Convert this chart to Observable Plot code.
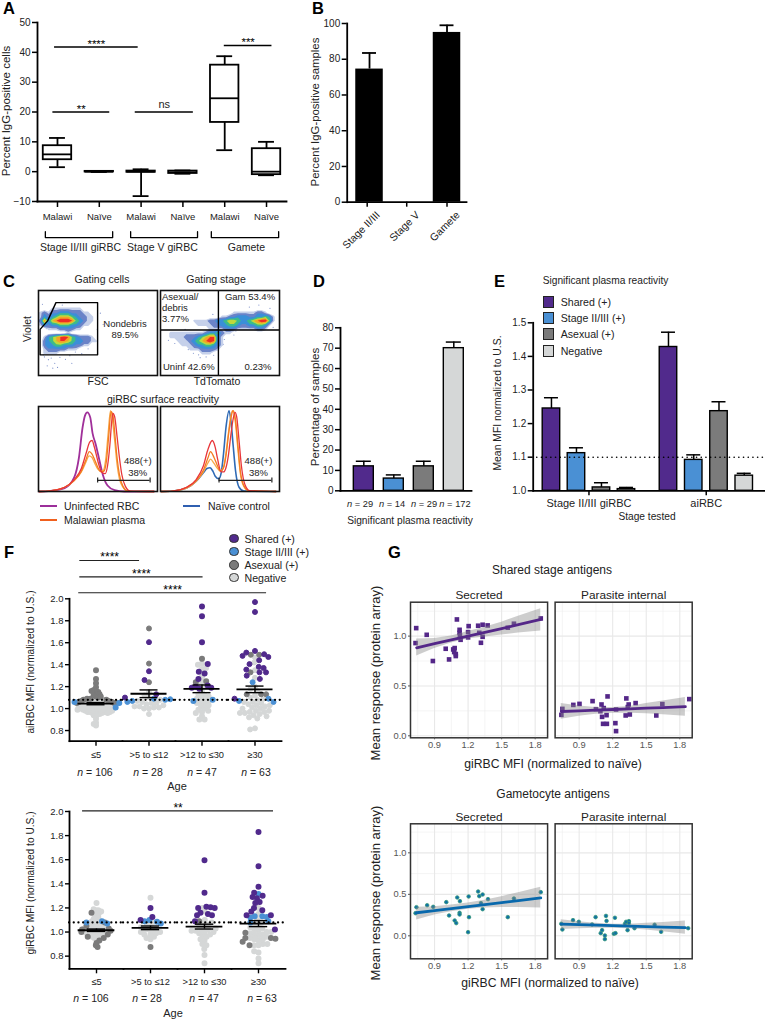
<!DOCTYPE html>
<html><head><meta charset="utf-8">
<script src="https://cdn.jsdelivr.net/npm/d3@7"></script>
<script src="https://cdn.jsdelivr.net/npm/@observablehq/plot@0.6"></script>
<style>
html,body{margin:0;padding:0;background:#fff}
#page{position:relative;width:765px;height:1020px;overflow:hidden;font-family:"Liberation Sans",Arial,sans-serif;color:#222}
#page svg{position:absolute;overflow:visible;max-width:none;background:transparent}
.t{position:absolute;white-space:nowrap;line-height:1}
.sw{position:absolute}
</style></head><body><div id="page"></div>
<script>
// ---------- Panel A ----------
const boxNames = ["Malawi","Naïve","Malawi","Naïve","Malawi","Naïve"];
const boxLow = [1.5,-0.1,-8.2,-0.7,7.2,-1.2];
const boxQ1 = [4,-0.1,-0.2,-0.6,16.5,-1];
const boxMedian = [5.8,0,0,-0.2,24.6,0];
const boxQ3 = [8.7,0.1,0.2,0.2,35.7,7.7];
const boxHigh = [11.3,0.1,0.8,0.4,38.7,10];
const sigAFrom = [-0.07,-0.11,1.86,3.99];
const sigATo = [1.93,1.25,3.25,5.13];
const sigALevel = [41.8,20,20,42.3];
const sigAText = ["****","**","ns","***"];
const groupNames = ["Stage II/III giRBC","Stage V giRBC","Gamete"];
const groupFrom = [-0.29,1.75,3.68];
const groupTo = [1.32,3.35,5.29];
const groupMid = [0.55,2.51,4.52];
// ---------- Panel B ----------
const stageNames = ["Stage II/III","Stage V","Gamete"];
const stagePercent = [74.5,0,95];
const stageUpper = [83.5,0,99];
const stageTicks = [-0.06,0.96,2];
// ---------- Panel C ----------
const gatingCells = [
"0","0","0","0",
"000111111110000000000000000000",
"121223332221100000000000000000",
"132345554322110000000000000000",
"263567776432110000000000000000",
"132334443321100000000000000000",
"001112222110000000000000000000",
"000000010000000000000000000000",
"013456764322210000000000000000",
"023456654332211000000000000000",
"023344333221100000000000000000",
"012222211100000000000000000000",
"011110000000000000000000000000",
"0","0","0","0","0"];
const gatingStage = [
"0","0","0","0","0",
"000000000000000000111111221000",
"000000000000000112233322334310",
"000000001111223345543345677410",
"000000000111122334432233443100",
"000000000000111122211111221000",
"001111111112334211000000000000",
"001111222345662100000000000000",
"000011123456762100000000000000",
"000001112334432100000000000000",
"000000011122221000000000000000",
"000000000011100000000000000000",
"0","0","0","0","0"];
const speckleCellsX = [1.5,2.5,3.2,4.1,5.4,6.8,2.2,3.6,1.2,7.9,9.3,12.5,14.8,15.6,16.3,10.9,1,2,6,4.8,8.4];
const speckleCellsY = [16.4,17.1,16.7,18,16.5,17,18.6,19.2,15.9,16.1,15.2,14.4,9.6,5.6,8.4,15.6,3.4,9.4,3.6,19,18];
const speckleStageX = [15.3,16.1,17,18.5,15.8,16.6,2,3.6,5.2,7,8.3,9.6,10,6.2,22.4,24.8,27.6,28.4,19,14.9,15.9,13.4,11.5,13.2];
const speckleStageY = [11.2,12.1,10.6,11,13.3,10.3,12.3,13.1,13,14.6,15.5,15.9,16.6,9.6,4.1,3.6,4.4,9.1,10,14,10.9,16,16.4,5.9];
const gateX = [4.4,14.9,14.9,0.4,0.4,2.3,4.4];
const gateY = [3,3,15.9,15.9,9.6,7.5,3];
const densityThresholds = [0.7,1.3,2.2,3.2,4.2,5,6];
const densityColors = ["#c5d0ea","#6a83c8","#3a8fd8","#3dbb8a","#c0d93c","#f5a326","#ee2d24"];
const uninfectedX = [0.5,10,22,30,34,37,39,41,43.5,45.5,48,51,54,58,64,72,97];
const uninfectedY = [0,0.8,4,16.5,40,75,89,93,87,68,56,38,20,7,1.5,0,0];
const plasmaRedLeftX = [0.5,10,22,30,36,40,43,45,47,50,53,56,58,60,61.5,62.6,64,66,68,70,73,77,97];
const plasmaRedLeftY = [0,0.8,5,14,27,45,58,60,52,35,23,21,30,55,82,92,88,65,40,20,6,0.5,0];
const plasmaOrangeLeftX = [0.5,10,22,30,36,40,42.7,45,47,50,52.5,55,57,59,61,62.5,64,66,68,71,75,97];
const plasmaOrangeLeftY = [0,0.8,5,13,24,38,47,44,38,28,23,24,35,65,94,90,70,40,20,6,0.5,0];
const plasmaPaleLeftX = [0.5,10,22,30,36,40,42.5,45,47,50,52,54.5,56.5,58.5,60.5,62,64,66,68,71,75,97];
const plasmaPaleLeftY = [0,0.8,5,13,23,35,42,40,34,26,24,25,38,68,95,85,60,32,15,5,0.5,0];
const controlX = [0.5,10,22,30,36,39,41.6,44,46,49,51,53,55,57.6,59,61,63,66,70,97];
const controlY = [0,0.5,4,12,22,27,28,24,18,15,22,45,75,95,85,55,25,5,0.5,0];
const plasmaRedRightX = [0.5,10,22,30,36,40,43.5,46,48,51,53,55,57,59,61,62.6,64,66,68,71,75,97];
const plasmaRedRightY = [0,0.5,5,14,30,50,60,52,38,23,23,28,42,65,85,93,88,60,30,8,1,0];
const plasmaOrangeRightX = [0.5,10,22,30,36,40,42,45,48,50.5,53,55,57,59,61,63,65,67,70,74,97];
const plasmaOrangeRightY = [0,0.5,5,13,25,40,47,40,30,24,28,42,65,85,95,85,55,25,7,1,0];
const plasmaPaleRightX = [0.5,10,22,30,36,40,42,45,48,50,53,55,57,59,60.5,63,65,67,70,74,97];
const plasmaPaleRightY = [0,0.5,4,12,23,34,38,33,27,24,29,45,68,88,95,80,50,22,6,1,0];
// ---------- Panel D ----------
const reactivityNames = ["Shared (+)","Stage II/III (+)","Asexual (+)","Negative"];
const reactivityColors = ["#512a8c","#4a90d4","#7b7b7b","#d5d7d7"];
const samplePercent = [12,6,12,70];
const sampleUpper = [14.5,7.8,14.5,73];
const sampleCounts = [29,14,29,172];
// ---------- Panel E ----------
const stageTested = ["Stage II/III giRBC","aiRBC"];
const meanGi = [1.245,1.112,1.01,1.005];
const meanGiUpper = [1.277,1.128,1.024,1.01];
const meanAi = [1.428,1.092,1.237,1.045];
const meanAiUpper = [1.472,1.107,1.265,1.052];
// ---------- Panel F ----------
const ageNames = ["≤5",">5 to ≤12",">12 to ≤30","≥30"];
const ageCounts = [106,28,47,63];
const aiNegative = [
[.87,.845,.86,.905,.93,.94,.95,.95,.96,.96,.96,.97,.97,.97,.97,.98,.98,.98,.98,.98,.99,.99,.99,.99,.99,1.0,1.0,1.0,1.0,1.0,1.0,1.01,1.01,1.01,1.01,1.01,1.02,1.02,1.02,1.02,1.02,1.03,1.03,1.03,1.03,1.03,1.04,1.04,1.04,1.04,1.04,1.05,1.05,1.05,1.05,1.06,1.06,1.06,1.06,1.07,1.07,1.07,1.08,1.08,1.08,1.03,1.02,1.01,1.0,.99,.98,.97,.96],
[.95,1.0,1.0,1.01,1.01,1.02,1.02,1.03,1.04,1.05,1.05,1.06,1.07,1.08,1.1,1.12,1.15],
[1.41,1.40,1.36,1.37,1.29,1.25,1.22,1.21,1.15,1.13,1.12,1.11,1.1,1.09,1.08,1.07,1.06,1.05,1.04,1.03,1.02,1.0,.99,.98,.97,.96,.93,.90,.90],
[1.465,1.42,1.35,1.28,1.2,1.18,1.16,1.12,1.1,1.08,1.06,1.05,1.04,1.03,1.02,1.01,1.0,.98,.97,.97,.96,.95,.94,.93,.92,.91,.82,.81,1.0,.98,.96,1.03,1.06,1.09]];
const aiAsexual = [
[1.35,1.27,1.23,1.195,1.16,1.17,1.14,1.13,1.12,1.11,1.10,1.09,1.09,1.08,1.08,1.07,1.07,1.06,1.06,1.05,1.05,1.05,1.15,1.16,1.13,1.11],
[1.73,1.41,1.24],
[1.455,1.25,1.24],
[1.49,1.49,1.33,1.13,1.13,1.13]];
const aiStage = [[1.01,1.06,1.05],[1.09,1.08,1.07,1.085,1.06],[1.07,1.08],[1.24,1.09,1.07,1.06]];
const aiShared = [
[],
[1.605,1.34,1.26,1.13,1.10],
[1.93,1.84,1.605,1.405,1.335,1.32,1.27,1.21,1.2,1.19,1.19,1.18],
[1.97,1.88,1.525,1.51,1.495,1.48,1.47,1.44,1.405,1.38,1.37,1.355,1.33,1.33,1.3,1.27,1.09]];
const aiMean = [1.045,1.135,1.18,1.175];
const aiSem = [0.01,0.035,0.035,0.03];
const giNegative = [
[.94,.95,.95,.96,.96,.97,.97,.97,.98,.98,.98,.99,.99,.99,.99,1.0,1.0,1.0,1.0,1.0,1.01,1.01,1.01,1.01,1.02,1.02,1.02,1.02,1.03,1.03,1.03,1.03,1.04,1.04,1.04,1.04,1.05,1.05,1.05,1.06,1.06,1.06,1.07,1.07,1.07,1.08,1.08,1.09,1.09,1.1,1.1,1.11,1.12,1.13,1.14,1.16,1.16,1.16,1.17,1.18,1.18,1.19,1.24],
[.94,.95,.96,.98,.98,.99,1.0,1.0,1.01,1.02,1.02,1.03,1.04,1.05,1.06,1.08,1.285],
[.93,.9,.89,.86,.81,.74,.94,.96,.97,.98,.99,1.0,1.0,1.01,1.01,1.02,1.02,1.03,1.04,1.05,1.06,1.07,1.08,1.1,1.17,1.2],
[.74,.78,.83,.84,.89,.89,.9,.9,.93,.94,.94,.95,.96,.97,.98,.98,.99,1.0,1.0,1.01,1.02,1.03,1.04,1.05,1.06,1.08,1.1,1.15,1.2]];
const giAsexual = [
[1.16,1.08,1.05,1.03,1.02,1.01,1.0,.98,.96,.95,.93,.91,.89,.875],
[.875],
[1.09],
[.995,.95,.95,.945,.92,.89]];
const giStage = [[1.09,1.08,1.07],[1.10,1.09,1.085,1.07],[],[1.315,1.13,1.13,1.125,1.12,1.09,1.08]];
const giShared = [
[],
[1.2,1.125,1.10],
[1.595,1.325,1.21,1.205,1.2,1.2,1.16,1.15,1.14,1.14,1.09],
[1.83,1.545,1.375,1.325,1.30,1.29,1.28,1.25,1.24,1.2,1.18,1.17,1.14,1.14,1.02]];
const giMean = [1.015,1.035,1.045,1.07];
const giSem = [0.01,0.015,0.02,0.025];
// ---------- Panel G ----------
const facetNames = ["Secreted","Parasite internal"];
const sharedSecretedX = [.73,.736,.83,.885,1.0,1.03,1.067,1.08,1.076,1.09,1.09,1.1,1.124,1.124,1.127,1.133,1.2,1.2,1.205,1.29,1.3,1.315,1.33,1.33,1.375,1.555,1.61,1.85];
const sharedSecretedY = [.93,1.08,1.013,.75,.873,.766,.866,.88,.84,.82,.8,1.167,1.063,1.033,1.007,.963,.987,1.04,1.1,1.104,1.033,.933,.993,1.114,1.107,1.084,1.124,1.177];
const sharedInternalX = [.741,.75,.848,.903,1.02,1.05,1.09,1.1,1.12,1.105,1.145,1.154,1.114,1.148,1.224,1.23,1.23,1.316,1.322,1.353,1.343,1.335,1.405,1.59,1.644,1.885];
const sharedInternalY = [.21,.27,.31,.32,.348,.267,.247,.314,.278,.19,.207,.395,.12,.12,.127,.047,.264,.204,.375,.214,.314,.288,.328,.204,.318,.368];
const gameteSecretedX = [.73,.738,.834,.888,1.005,1.03,1.08,1.094,1.103,1.127,1.124,1.124,1.205,1.208,1.2,1.29,1.3,1.315,1.33,1.33,1.378,1.555,1.61,1.85];
const gameteSecretedY = [.273,.345,.369,.349,.406,.245,.185,.153,.462,.418,.277,.257,.474,.225,.044,.534,.478,.394,.498,.321,.442,.225,.45,.526];
const gameteInternalX = [.74,.75,.845,.897,1.016,1.047,1.093,1.105,1.14,1.145,1.13,1.13,1.21,1.225,1.22,1.31,1.32,1.345,1.345,1.333,1.395,1.575,1.633,1.875];
const gameteInternalY = [.145,.076,.189,.169,.137,.225,.032,.068,.24,.18,.004,-.04,.024,.032,.217,.145,.169,.177,.153,.068,.092,.133,.048,.092];
const ciX = [.74,.9,1.05,1.2,1.35,1.5,1.65,1.85];
const sharedSecretedLow = [.80,.875,.93,.97,.99,1.01,1.03,1.05];
const sharedSecretedHigh = [.97,.975,1.0,1.045,1.09,1.14,1.2,1.275];
const sharedSecretedFit = [.883,.924,.962,1.0,1.038,1.076,1.114,1.167];
const sharedInternalLow = [.165,.195,.215,.225,.225,.22,.21,.195];
const sharedInternalHigh = [.325,.30,.285,.285,.295,.325,.35,.385];
const sharedInternalFit = [.244,.251,.257,.264,.27,.277,.283,.292];
const gameteSecretedLow = [.19,.25,.29,.32,.335,.34,.34,.335];
const gameteSecretedHigh = [.345,.35,.37,.395,.43,.47,.52,.585];
const gameteSecretedFit = [.278,.304,.328,.352,.376,.4,.424,.457];
const gameteInternalLow = [.075,.085,.09,.09,.085,.07,.05,.02];
const gameteInternalHigh = [.195,.17,.15,.14,.14,.15,.16,.178];
const gameteInternalFit = [.14,.134,.128,.122,.117,.111,.105,.098];

// ---------- helpers ----------
const FONT = '"Liberation Sans",Arial,sans-serif';
const page = document.getElementById("page");
function place(plot,left,top){plot.style.left=left+"px";plot.style.top=top+"px";page.append(plot);return plot;}
function label(html,x,y,o={}){
  const {size=10,anchor="middle",rotate=0,weight=400,color="#222"}=o;
  const e=document.createElement("div");e.className="t";e.innerHTML=html;
  e.style.left=x+"px";e.style.top=y+"px";e.style.fontSize=size+"px";e.style.fontWeight=weight;e.style.color=color;
  const tx=anchor==="middle"?"-50%":anchor==="end"?"-100%":"0";
  e.style.transform=`translate(${tx},-50%) rotate(${rotate}deg)`;
  if(anchor==="start") e.style.transformOrigin="0 50%";
  page.append(e);return e;
}
function box(x,y,w,h,css){const e=document.createElement("div");e.className="sw";e.style.cssText+=`left:${x}px;top:${y}px;width:${w}px;height:${h}px;${css}`;page.append(e);}
const baseStyle={fontFamily:FONT,background:"transparent",color:"#222"};
const axisLines=(w=1.8)=>[Plot.frame({anchor:"left",stroke:"#000",strokeWidth:w}),Plot.frame({anchor:"bottom",stroke:"#000",strokeWidth:w})];
const letters=[["A",3,8],["B",312,8],["C",3,281],["D",313,281],["E",494,281],["F",4,552],["G",388,552]];
letters.forEach(([s,x,y])=>label(s,x,y,{size:16.5,weight:700,anchor:"start",color:"#000"}));

// ---------- A ----------
const boxes=boxNames.map((name,i)=>({i,name,low:boxLow[i],q1:boxQ1[i],median:boxMedian[i],q3:boxQ3[i],high:boxHigh[i]}));
const sigA=sigAText.map((text,i)=>({text,from:sigAFrom[i],to:sigATo[i],level:sigALevel[i],mid:(sigAFrom[i]+sigATo[i])/2}));
const groupsA=groupNames.map((name,i)=>({name,from:groupFrom[i],to:groupTo[i],mid:groupMid[i]}));
const BRACKET_TOP=-20.1,BRACKET_BOTTOM=-22.1,GROUP_LABEL=-25.3;
place(Plot.plot({width:300,height:265,marginLeft:37,marginRight:14,marginTop:22,marginBottom:64,style:baseStyle,
  x:{domain:[-0.478,5.478],axis:null},y:{domain:[-10,50],axis:null},
  marks:[
    ...axisLines(),
    Plot.axisY({ticks:[-10,0,10,20,30,40,50],tickSize:5,tickPadding:2,strokeWidth:1.5,fontSize:10,label:null,stroke:"#000"}),
    Plot.axisX({ticks:[0,1,2,3,4,5],tickFormat:i=>boxNames[i],tickSize:6,tickPadding:6,strokeWidth:1.5,fontSize:9.5,label:null,stroke:"#000"}),
    Plot.ruleX(boxes,{x:"i",y1:"low",y2:"q1",stroke:"#000",strokeWidth:1.8}),
    Plot.ruleX(boxes,{x:"i",y1:"q3",y2:"high",stroke:"#000",strokeWidth:1.8}),
    Plot.rect(boxes,{x1:d=>d.i-.34,x2:d=>d.i+.34,y1:"q1",y2:"q3",fill:"#fff",stroke:"#000",strokeWidth:1.8}),
    Plot.ruleY(boxes,{y:"median",x1:d=>d.i-.34,x2:d=>d.i+.34,stroke:"#000",strokeWidth:1.8}),
    Plot.ruleY(boxes,{y:"low",x1:d=>d.i-.19,x2:d=>d.i+.19,stroke:"#000",strokeWidth:1.8}),
    Plot.ruleY(boxes,{y:"high",x1:d=>d.i-.19,x2:d=>d.i+.19,stroke:"#000",strokeWidth:1.8}),
    Plot.ruleY(sigA,{y:"level",x1:"from",x2:"to",stroke:"#000",strokeWidth:1.5}),
    Plot.text(sigA.filter(d=>d.text!=="ns"),{x:"mid",y:"level",text:"text",dy:-3,fontSize:11.5,fill:"#000"}),
    Plot.text(sigA.filter(d=>d.text==="ns"),{x:"mid",y:"level",text:"text",dy:-8,fontSize:11,fill:"#222"}),
    ...groupsA.map(g=>Plot.line([[g.from,BRACKET_TOP],[g.from,BRACKET_BOTTOM],[g.to,BRACKET_BOTTOM],[g.to,BRACKET_TOP]],{stroke:"#000",strokeWidth:1.3})),
    Plot.text(groupsA,{x:"mid",y:GROUP_LABEL,text:"name",fontSize:10.5,fill:"#222"})
  ]}),0,0);
label("Percent IgG-positive cells",7,111,{size:11.5,rotate:-90});

// ---------- B ----------
const stages=stageNames.map((name,i)=>({i,name,tick:stageTicks[i],v:stagePercent[i],up:stageUpper[i]}));
place(Plot.plot({width:185,height:265,marginLeft:46.7,marginRight:19,marginTop:23,marginBottom:63.3,style:baseStyle,
  x:{domain:[-0.576,2.503],axis:null},y:{domain:[0,100],axis:null},
  marks:[
    Plot.rectY(stages,{x1:d=>d.i-.355,x2:d=>d.i+.355,y1:0,y2:"v",fill:"#000"}),
    Plot.ruleX(stages,{x:"i",y1:"v",y2:"up",stroke:"#000",strokeWidth:1.8}),
    Plot.ruleY(stages.filter(d=>d.up>0),{y:"up",x1:d=>d.i-.18,x2:d=>d.i+.18,stroke:"#000",strokeWidth:1.8}),
    ...axisLines(),
    Plot.axisY({ticks:[0,20,40,60,80,100],tickSize:5,tickPadding:2,strokeWidth:1.5,fontSize:10,label:null,stroke:"#000"}),
    Plot.axisX({ticks:stageTicks,tickFormat:()=>"",tickSize:5,strokeWidth:1.5,label:null,stroke:"#000"}),
    Plot.text(stages,{x:"tick",y:0,text:"name",rotate:-45,textAnchor:"end",dx:11,dy:11,fontSize:10.5,fill:"#222"})
  ]}),300,0);
label("Percent IgG-positive samples",316,112,{size:11.4,rotate:-90});

// ---------- C density ----------
function densityPlot(rows,speckX,speckY,extra,left){
  const values=rows.map(r=>r.padEnd(30,"0")).join("").split("").map(Number);
  return place(Plot.plot({width:119,height:85,margin:0,style:baseStyle,
    x:{domain:[0,30],axis:null},y:{domain:[21,0],axis:null},
    color:{type:"threshold",domain:densityThresholds.slice(1),range:densityColors},
    marks:[
      Plot.dot(speckX.map((x,i)=>[x,speckY[i]]),{r:.6,fill:"#8093cc"}),
      Plot.contour(values,{width:30,height:21,fill:Plot.identity,blur:0,thresholds:densityThresholds}),
      ...extra,
      Plot.frame({stroke:"#111",strokeWidth:1.6})
    ]}),left,289.5);
}
densityPlot(gatingCells,speckleCellsX,speckleCellsY,[Plot.line(gateX.map((x,i)=>[x,gateY[i]]),{stroke:"#000",strokeWidth:1.4})],37.5);
densityPlot(gatingStage,speckleStageX,speckleStageY,[Plot.ruleX([14.6],{stroke:"#000",strokeWidth:1.4}),Plot.ruleY([9.75],{stroke:"#000",strokeWidth:1.4})],160);
label("Gating cells",102,279,{size:10.5});
label("Gating stage",216,279,{size:10.5});
label("Violet",27,329,{size:10.5,rotate:-90});
label("FSC",98,381,{size:10.5});
label("TdTomato",217,381,{size:10.5});
label("Nondebris",125,324,{size:9.5});
label("89.5%",125,335,{size:9.5});
label("Asexual/",162,297,{size:9.5,anchor:"start"});
label("debris",162,308,{size:9.5,anchor:"start"});
label("3.77%",162,319,{size:9.5,anchor:"start"});
label("Gam 53.4%",250,297,{size:9.5});
label("Uninf 42.6%",163,366.5,{size:9.5,anchor:"start"});
label("0.23%",258,366.5,{size:9.5});
label("giRBC surface reactivity",163,398.5,{size:10.5});

// ---------- C histograms ----------
function histPlot(series,gateFrom,gateTo,textX,left){
  return place(Plot.plot({width:119,height:85,margin:0,style:baseStyle,
    x:{domain:[0,100],axis:null},y:{domain:[0,100],axis:null},
    marks:[
      ...series.map(([xs,ys,c,w])=>Plot.line(xs.map((x,i)=>[x,ys[i]]),{curve:"monotone-x",stroke:c,strokeWidth:w})),
      Plot.ruleY([13],{x1:gateFrom,x2:gateTo,stroke:"#222",strokeWidth:1.2}),
      Plot.ruleX([gateFrom,gateTo],{y1:10,y2:16,stroke:"#222",strokeWidth:1.2}),
      Plot.text(["488(+)"],{x:textX,y:35.4,fontSize:9.5,fill:"#222"}),
      Plot.text(["38%"],{x:textX,y:22.4,fontSize:9.5,fill:"#222"}),
      Plot.frame({stroke:"#111",strokeWidth:1.6})
    ]}),left,406);
}
histPlot([[uninfectedX,uninfectedY,"#a0309a",1.8],[plasmaPaleLeftX,plasmaPaleLeftY,"#f6a94a",1.3],[plasmaOrangeLeftX,plasmaOrangeLeftY,"#f47a20",1.3],[plasmaRedLeftX,plasmaRedLeftY,"#e8363a",1.3]],49.7,93.8,83.4,37.5);
histPlot([[controlX,controlY,"#2f6ab5",1.6],[plasmaPaleRightX,plasmaPaleRightY,"#f6a94a",1.3],[plasmaOrangeRightX,plasmaOrangeRightY,"#f47a20",1.3],[plasmaRedRightX,plasmaRedRightY,"#e8363a",1.3]],49.2,93.6,82.3,160);
box(40,504.7,17,2.6,"background:#9c2f9a");label("Uninfected RBC",64,506,{size:10.5,anchor:"start"});
box(40,518.7,17,2.6,"background:#f0601e");label("Malawian plasma",64,520,{size:10.5,anchor:"start"});
box(183,504.7,17,2.6,"background:#2f5fb0");label("Naïve control",208,506,{size:10.5,anchor:"start"});

// ---------- D ----------
const samples=samplePercent.map((v,i)=>({i,v,up:sampleUpper[i],name:reactivityNames[i]}));
const reactivityColor={domain:reactivityNames,range:reactivityColors};
place(Plot.plot({width:165,height:183.3,marginLeft:30,marginRight:4,marginTop:10.3,marginBottom:10,style:baseStyle,
  x:{domain:[-0.777,3.59],axis:null},y:{domain:[0,80],axis:null},color:reactivityColor,
  marks:[
    Plot.ruleX(samples,{x:"i",y1:"v",y2:"up",stroke:"#000",strokeWidth:1.5}),
    Plot.ruleY(samples,{y:"up",x1:d=>d.i-.25,x2:d=>d.i+.25,stroke:"#000",strokeWidth:1.5}),
    Plot.rectY(samples,{x1:d=>d.i-.333,x2:d=>d.i+.333,y1:0,y2:"v",fill:"name",stroke:"#000",strokeWidth:1.4}),
    ...axisLines(),
    Plot.axisY({ticks:[0,10,20,30,40,50,60,70,80],tickSize:5,tickPadding:2,strokeWidth:1.5,fontSize:10,label:null,stroke:"#000"})
  ]}),310,317);
label("Percentage of samples",315,407,{size:11.6,rotate:-90});
[360,392,424,455].forEach((x,i)=>label(`<i>n</i> = ${sampleCounts[i]}`,x,505,{size:9.3}));
label("Significant plasma reactivity",410,521,{size:10.2});

// ---------- E ----------
const SECOND_GROUP=4.68;
const tested=[...meanGi.map((v,i)=>({pos:i,v,up:meanGiUpper[i],name:reactivityNames[i]})),...meanAi.map((v,i)=>({pos:SECOND_GROUP+i*1.01,v,up:meanAiUpper[i],name:reactivityNames[i]}))];
place(Plot.plot({width:275,height:200.3,marginLeft:42.7,marginRight:0,marginTop:7.3,marginBottom:25,style:baseStyle,
  x:{domain:[-0.73,8.56],axis:null},y:{domain:[1,1.5],axis:null},color:reactivityColor,
  marks:[
    Plot.ruleX(tested,{x:"pos",y1:"v",y2:"up",stroke:"#000",strokeWidth:1.5}),
    Plot.ruleY(tested,{y:"up",x1:d=>d.pos-.28,x2:d=>d.pos+.28,stroke:"#000",strokeWidth:1.5}),
    Plot.rectY(tested,{x1:d=>d.pos-.35,x2:d=>d.pos+.35,y1:1,y2:"v",fill:"name",stroke:"#000",strokeWidth:1.4}),
    Plot.ruleY([1.1],{x1:-0.57,x2:8.48,stroke:"#000",strokeWidth:1.6,strokeDasharray:"0.1 4.6",strokeLinecap:"round"}),
    ...axisLines(),
    Plot.axisY({ticks:[1,1.1,1.2,1.3,1.4,1.5],tickFormat:d3.format(".1f"),tickSize:5,tickPadding:2,strokeWidth:1.5,fontSize:10,label:null,stroke:"#000"}),
    Plot.axisX({ticks:[1.5,6.19],tickFormat:d=>stageTested[d<3?0:1],tickSize:5,tickPadding:3,strokeWidth:1.5,fontSize:11,label:null,stroke:"#000"})
  ]}),490,315);
label("Mean MFI normalized to U.S.",497.5,403,{size:10.4,rotate:-90});
label("Stage tested",647,516.5,{size:10.2});
label("Significant plasma reactivity",542.7,281,{size:10.2,anchor:"start"});
reactivityNames.forEach((n,i)=>{
  const y=[302,318,334,351][i];
  box(542.7,y-6,9.5,9.5,`background:${reactivityColors[i]};border:1.2px solid #222`);
  label(n,560.7,y,{size:10.6,anchor:"start"});
});

// ---------- F ----------
const DOT_RADIUS=3;
function swarm(groups){
  const rows=[];
  const lists=[groups.negative,groups.asexual,groups.stage,groups.shared];
  const names=[reactivityNames[3],reactivityNames[2],reactivityNames[1],reactivityNames[0]];
  lists.forEach((list,k)=>list.forEach((vals,a)=>vals.forEach(value=>rows.push({age:ageNames[a],value,reactivity:names[k]}))));
  return rows;
}
function swarmPlot({groups,mean,sem,top,left,right,yTopPad,h,domain,tickY,spacing}){
  const stats=ageNames.map((age,i)=>({age,m:mean[i],lo:mean[i]-sem[i],hi:mean[i]+sem[i]}));
  const rows=swarm(groups);
  return place(Plot.plot({width:300,height:h,marginLeft:left,marginRight:300-right,marginTop:yTopPad,marginBottom:25,style:baseStyle,
    fx:{domain:ageNames,padding:0,axis:null,label:null},x:{domain:[-1,1],axis:null},y:{domain,axis:null},color:reactivityColor,
    marks:[
      // The swarm is laid out with a small radius so dots overlap as in the reference; the stroke brings them to full size.
      ...ageNames.map((age,i)=>Plot.dot(rows.filter(d=>d.age===age),Plot.dodgeX({anchor:"middle",padding:0,fx:"age",y:"value",fill:"reactivity",stroke:"reactivity",strokeWidth:2*(DOT_RADIUS-spacing[i]),r:spacing[i]}))),
      Plot.ruleY(stats,{fx:"age",y:"m",x1:-.68,x2:.68,stroke:"#000",strokeWidth:1.8}),
      Plot.ruleY(stats,{fx:"age",y:"lo",x1:-.34,x2:.34,stroke:"#000",strokeWidth:1.4}),
      Plot.ruleY(stats,{fx:"age",y:"hi",x1:-.34,x2:.34,stroke:"#000",strokeWidth:1.4}),
      Plot.ruleX(stats,{fx:"age",x:()=>0,y1:"lo",y2:"hi",stroke:"#000",strokeWidth:1.4}),
      Plot.ruleY([1.08],{stroke:"#000",strokeWidth:2.2,strokeDasharray:"0.1 4.6",strokeLinecap:"round"}),
      Plot.frame({anchor:"bottom",stroke:"#000",strokeWidth:1.8}),
      Plot.frame({anchor:"left",facetAnchor:"left",stroke:"#000",strokeWidth:1.8}),
      Plot.axisY({ticks:tickY,tickFormat:d3.format(".1f"),tickSize:4,tickPadding:2,strokeWidth:1.4,fontSize:9.5,label:null,stroke:"#000"}),
      Plot.axisFx({anchor:"bottom",tickSize:5,tickPadding:5,strokeWidth:1.4,fontSize:9.3,label:null,stroke:"#000"})
    ]}),0,top);
}
const ticksF=[.8,1,1.2,1.4,1.6,1.8,2];
swarmPlot({groups:{negative:aiNegative,asexual:aiAsexual,stage:aiStage,shared:aiShared},mean:aiMean,sem:aiSem,top:585,left:67.7,right:283,yTopPad:13.3,h:180.7,domain:[.703,2],tickY:ticksF,spacing:[1.25,2.5,2.1,2.5]});
swarmPlot({groups:{negative:giNegative,asexual:giAsexual,stage:giStage,shared:giShared},mean:giMean,sem:giSem,top:800,left:67.7,right:286.7,yTopPad:11,h:193.3,domain:[.695,2],tickY:ticksF,spacing:[1.25,2.1,2.1,2.25]});
function sigPlot(rows,left,width,top,height,domain){
  return place(Plot.plot({width,height,margin:0,style:baseStyle,x:{domain:[-.5,3.5],axis:null},y:{domain,axis:null},
    marks:[
      Plot.ruleY(rows,{y:"level",x1:"from",x2:"to",stroke:"#222",strokeWidth:1.1}),
      Plot.text(rows,{x:d=>(d.from+d.to)/2,y:"level",text:"text",dy:-3,fontSize:12,fill:"#000"})
    ]}),left,top);
}
const sigFTopFrom=[-0.29,-0.29,-0.31],sigFTopTo=[0.82,2.0,3.18],sigFTopLevel=[2.35,2.2,2.055],sigFTopText=["****","****","****"];
sigPlot(sigFTopText.map((text,i)=>({text,from:sigFTopFrom[i],to:sigFTopTo[i],level:sigFTopLevel[i]})),67.7,215.3,549,49.3,[2,2.45]);
const sigFBottom=[{text:"**",from:-0.243,to:3.245,level:2.005}];
sigPlot(sigFBottom,67.7,219,805,6,[2,2.05]);
label("aiRBC MFI (normalized to U.S.)",31,662,{size:10.2,rotate:-90});
label("giRBC MFI (normalized to U.S.)",31,883,{size:10.2,rotate:-90});
[95,148,202,256].forEach((x,i)=>label(`<i>n</i> = ${ageCounts[i]}`,x,772,{size:10.5}));
[91,147,204,262].forEach((x,i)=>label(`<i>n</i> = ${ageCounts[i]}`,x,997.5,{size:10.5}));
label("Age",177,786,{size:11});
label("Age",173,1013,{size:11});
reactivityNames.forEach((n,i)=>{
  const y=[538.5,551.7,565,577.7][i];
  box(229.2,y-4.8,9.6,9.6,`box-sizing:border-box;border-radius:50%;background:${reactivityColors[i]};border:1px solid #333`);
  label(n,244.5,y,{size:10.6,anchor:"start"});
});

// ---------- G ----------
const pairPoints=(x,y,panel)=>x.map((v,i)=>({x:v,y:y[i],panel}));
const ciRows=(low,high,fit,panel)=>ciX.map((x,i)=>({x,low:low[i],high:high[i],fit:fit[i],panel}));
function ggPlot({points,ci,color,symbol,r,top,h,marginTop,marginBottom,domain,pointFill,pointStroke}){
  return place(Plot.plot({width:316,height:h,marginLeft:25,marginRight:9.3,marginTop,marginBottom,style:baseStyle,
    fx:{domain:facetNames,paddingInner:.052,paddingOuter:0,axis:null,label:null,round:false},
    x:{domain:[.685,1.911],axis:null},y:{domain,axis:null},
    marks:[
      Plot.gridX({ticks:[.75,1.05,1.35,1.65],stroke:"#eeeeee",strokeOpacity:1,strokeWidth:.6}),
      Plot.gridY({ticks:[.25,.75,1.25],stroke:"#eeeeee",strokeOpacity:1,strokeWidth:.6}),
      Plot.gridX({ticks:[.9,1.2,1.5,1.8],stroke:"#e8e8e8",strokeOpacity:1,strokeWidth:1.1}),
      Plot.gridY({ticks:[0,.5,1],stroke:"#e8e8e8",strokeOpacity:1,strokeWidth:1.1}),
      Plot.dot(points,{fx:"panel",x:"x",y:"y",r,symbol,fill:pointFill,stroke:pointStroke,strokeWidth:pointStroke==="none"?0:.8}),
      Plot.areaY(ci,{fx:"panel",x:"x",y1:"low",y2:"high",fill:"#888",fillOpacity:.42}),
      Plot.line(ci,{fx:"panel",x:"x",y:"fit",stroke:color,strokeWidth:2.8}),
      Plot.frame({stroke:"#333",strokeWidth:1.5}),
      Plot.axisY({ticks:[0,.5,1],tickFormat:d3.format(".1f"),tickSize:2,tickPadding:2,fontSize:9.3,fill:"#555",stroke:"#555",label:null}),
      Plot.axisX({ticks:[.9,1.2,1.5,1.8],tickFormat:d3.format(".1f"),tickSize:2,tickPadding:2,fontSize:9.3,fill:"#555",stroke:"#555",label:null}),
      Plot.axisFx({anchor:"top",tickSize:0,tickPadding:3,fontSize:11.8,fill:"#222",label:null})
    ]}),385,top);
}
ggPlot({points:[...pairPoints(sharedSecretedX,sharedSecretedY,facetNames[0]),...pairPoints(sharedInternalX,sharedInternalY,facetNames[1])],
  ci:[...ciRows(sharedSecretedLow,sharedSecretedHigh,sharedSecretedFit,facetNames[0]),...ciRows(sharedInternalLow,sharedInternalHigh,sharedInternalFit,facetNames[1])],
  color:"#542788",symbol:"square",r:2.6,top:582,h:172,marginTop:19.7,marginBottom:16.7,domain:[-.02,1.34],pointFill:"#542788",pointStroke:"none"});
ggPlot({points:[...pairPoints(gameteSecretedX,gameteSecretedY,facetNames[0]),...pairPoints(gameteInternalX,gameteInternalY,facetNames[1])],
  ci:[...ciRows(gameteSecretedLow,gameteSecretedHigh,gameteSecretedFit,facetNames[0]),...ciRows(gameteInternalLow,gameteInternalHigh,gameteInternalFit,facetNames[1])],
  color:"#0868ac",symbol:"circle",r:1.8,top:804,h:171,marginTop:19.3,marginBottom:16.7,domain:[-.277,1.35],pointFill:"#0f6fa8",pointStroke:"#3a9a78"});
label("Shared stage antigens",552,570,{size:12});
label("Gametocyte antigens",553,793.5,{size:12});
label("Mean response (protein array)",375,673,{size:13,rotate:-90});
label("Mean response (protein array)",375,893,{size:13,rotate:-90});
label("giRBC MFI (normalized to naïve)",553,764,{size:12.2});
label("giRBC MFI (normalized to naïve)",550,983,{size:12.2});
</script></body></html>
